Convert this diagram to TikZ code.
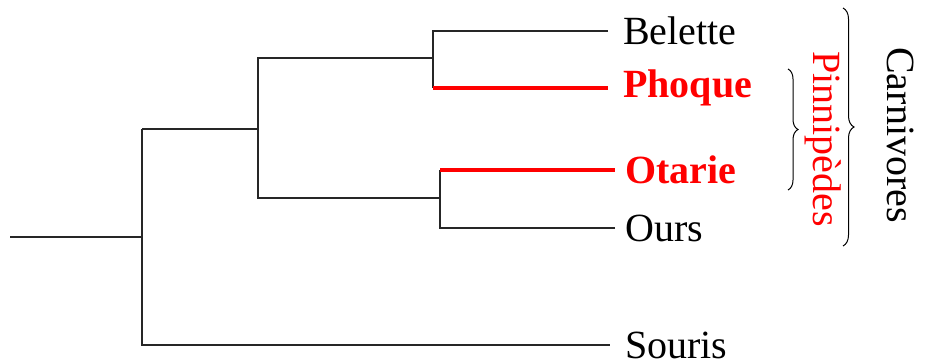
\documentclass[tikz,border=0pt]{standalone}
\usepackage{fontspec}
\setmainfont{Liberation Serif}
\usetikzlibrary{decorations.pathreplacing}
\tikzset{
	branch/.style={line width=1.3pt, black!85},
	redbranch/.style={line width=3.6pt, red},
	taxon/.style={anchor=west, inner ysep=0pt},
	clade/.style={decorate, decoration={brace, amplitude=11pt}, line width=1pt},
}

\begin{document}
\begin{tikzpicture}[x=1pt,y=-1pt,font=\fontsize{40}{46}\selectfont]
	\useasboundingbox (0,0) rectangle (925,362);
	%
	% junctions of the tree
	\coordinate (root) at (10,237);
	\coordinate (n1) at (142,237);
	\coordinate (n2) at (258,129);
	\coordinate (n3) at (433,58);
	\coordinate (n4) at (440,198);
	
	% leaves
	\node[taxon, inner xsep=15pt] (belette) at (608,31) {Belette};
	\node[taxon, inner xsep=15pt, red, font=\fontsize{40}{46}\selectfont\bfseries] (phoque) at (608,88) {Phoque};
	\node[taxon, inner xsep=10pt, red, font=\fontsize{40}{46}\selectfont\bfseries] (otarie) at (615,170) {Otarie};
	\node[taxon, inner xsep=10pt] (ours) at (615,228) {Ours};
	\node[taxon, inner xsep=15pt] (souris) at (610,345) {Souris};
	
	% branches
	\draw[branch] (root) -- (n1);
	\draw[branch] (n2 -| n1) |- (souris.west);
	\draw[branch] (n2 -| n1) -- (n2);
	\draw[branch] (n4 -| n2) |- (n3);
	\draw[branch] (n3 -| n2) |- (n4);
	\draw[branch] (belette.west) -| (n3 |- phoque.west);
	\draw[redbranch] (n3 |- phoque.west) -- (phoque.west);
	\draw[branch] (ours.west) -| (n4 |- otarie.west);
	\draw[redbranch] (n4 |- otarie.west) -- (otarie.west);
	
	% groups
	\draw[clade] (843,8) -- (843,246);
	\node[rotate=-90] (carnivores) at (901,135) {Carnivores};
	\draw[clade, decoration={amplitude=10pt}] (788,69) -- (788,190);
	\node[rotate=-90, red] (pinnipedes) at (823,139) {Pinnipèdes};
\end{tikzpicture}
\end{document}
